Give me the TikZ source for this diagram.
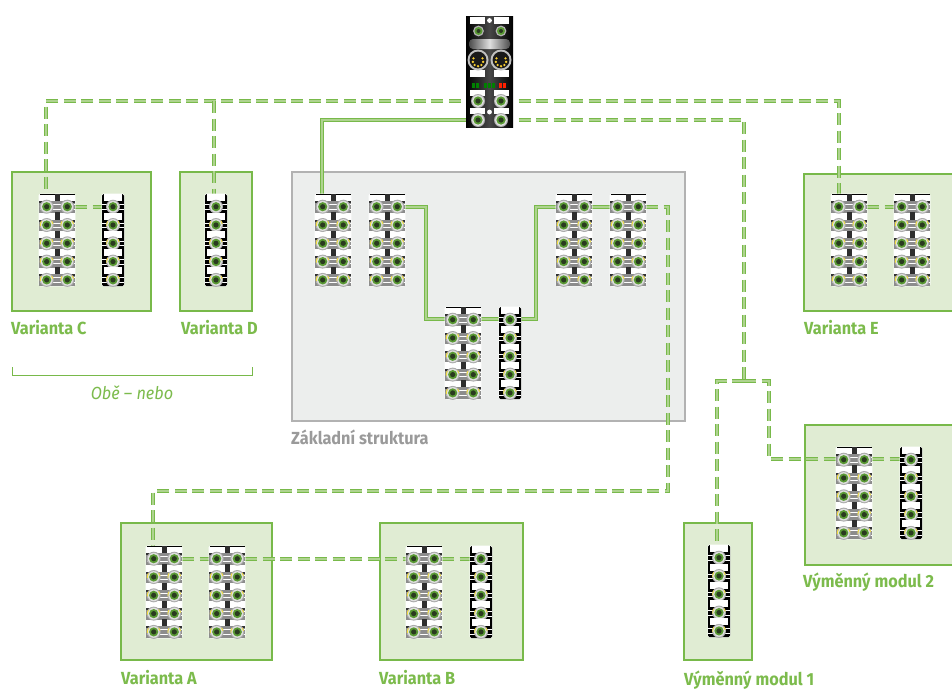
\documentclass[tikz,border=0pt]{standalone}
\usepackage{fontspec}
\newfontfamily\lab[FakeStretch=0.93]{Fira Sans}
\usetikzlibrary{calc}
\definecolor{lg}{HTML}{78B94A}
\definecolor{ll}{HTML}{AED38F}
\definecolor{pale}{HTML}{E0ECD3}
\definecolor{basef}{HTML}{ECEEED}
\definecolor{baseb}{HTML}{B2B2B2}
\definecolor{txg}{HTML}{7CBB4C}
\definecolor{txgr}{HTML}{9A9A9A}
\definecolor{mdark}{HTML}{2E2E2E}
\definecolor{pg}{HTML}{5A9A34}
\definecolor{pd}{HTML}{2A3A20}
\definecolor{py}{HTML}{F4DF3C}
\tikzset{
 varbox/.style={draw=lg,line width=2pt,fill=pale,anchor=north west,inner sep=0pt,outer sep=0pt},
 basebox/.style={draw=baseb,line width=2pt,fill=basef,anchor=north west,inner sep=0pt,outer sep=0pt},
 solidlink/.style={draw=lg,line width=1.6pt,double=ll,double distance=1.7pt},
 dashlink/.style={solidlink,dash pattern=on 12pt off 5.5pt},
 modbox/.style={fill=white,draw=white,line width=.8pt,rounded corners=1.5pt,anchor=north west,inner sep=0pt,outer sep=0pt},
 lbl/.style={anchor=base west,inner sep=0pt,text=txg,font=\lab\fontsize{17.5}{19}\selectfont\bfseries},
 brace/.style={draw=lg,line width=.8pt},
}
% connector: x, y
\newcommand\portf[2]{%
 \fill[gray!65] (#1,#2) circle (7pt);
 \fill[white!75!gray] (#1,#2) circle (5.9pt);
 \fill[pg] (#1,#2) circle (4.6pt);
 \fill[pd] (#1,#2) circle (2.6pt);
}
\newcommand\portc[2]{%
 \portf{#1}{#2}
 \draw[py,line width=.9pt] (#1,#2) ++(145:6.4pt) arc (145:190:6.4pt);
 \draw[py,line width=.9pt] (#1,#2) ++(10:6.4pt) arc (10:40:6.4pt);
}
% name, x, y (top left)
\newcommand\dualmod[3]{%
 \node[modbox,minimum width=36pt,minimum height=92pt] (#1) at (#2,#3) {};
 \fill[black] (#2+.5,#3+.2) rectangle (#2+35.5,#3+1);
 \foreach \i in {0,...,4}{
  \pgfmathsetmacro\ry{#3+12.7+18.3*\i}
  \fill[black!45] (#2+.3,\ry-5.5) rectangle (#2+35.7,\ry+6);
  \fill[white] (#2+.5,\ry-2.5) rectangle (#2+35.5,\ry-1.8);
  \fill[white] (#2+.5,\ry+1.8) rectangle (#2+35.5,\ry+2.5);
  \fill[black!80] (#2+.3,\ry-5.5) rectangle (#2+3,\ry-3.5);
  \fill[black!80] (#2+33,\ry-5.5) rectangle (#2+35.7,\ry-3.5);
  \ifnum\i=0 \portf{#2+7.7}{\ry}\portf{#2+28.3}{\ry}\else\portc{#2+7.7}{\ry}\portc{#2+28.3}{\ry}\fi
 }
 \foreach \i in {0,...,4}{
  \pgfmathsetmacro\ry{#3+12.7+18.3*\i}
  \fill[mdark] (#2+16,\ry-12.7) rectangle (#2+21,\ry-5.5);
 }
}
\newcommand\singlemod[3]{%
 \node[modbox,minimum width=22pt,minimum height=92pt] (#1) at (#2,#3) {};
 \fill[black,rounded corners=1.5pt] (#2,#3) rectangle (#2+22,#3+92);
 \foreach \i in {0,...,4}{
  \pgfmathsetmacro\ry{#3+12.7+18.3*\i}
  \fill[white] (#2+2,\ry-12.5) rectangle (#2+20,\ry-5.5);
  \fill[white] (#2,\ry-2.5) rectangle (#2+22,\ry-1.9);
  \fill[white] (#2,\ry+1.9) rectangle (#2+22,\ry+2.5);
  \ifnum\i=0 \portf{#2+11}{\ry}\else\portc{#2+11}{\ry}\fi
 }
}
\begin{document}
\begin{tikzpicture}[x=1pt,y=-1pt]
\useasboundingbox (0,0) rectangle (952,689);
\fill[white] (0,0) rectangle (952,689);
% boxes
\node[varbox,minimum width=139pt,minimum height=139pt] (bc) at (12,172) {};
\node[varbox,minimum width=72pt,minimum height=139pt] (bd) at (180,172) {};
\node[basebox,minimum width=393pt,minimum height=249pt] (bs) at (292,172) {};
\node[varbox,minimum width=160pt,minimum height=137pt] (be) at (804,174) {};
\node[varbox,minimum width=160pt,minimum height=140pt] (bm2) at (805,425) {};
\node[varbox,minimum width=151pt,minimum height=137pt] (ba) at (121,523) {};
\node[varbox,minimum width=143pt,minimum height=137pt] (bb) at (380,523) {};
\node[varbox,minimum width=68pt,minimum height=137pt] (bm1) at (684,523) {};
% gateway anchors
\coordinate (g1) at (478,101);
\coordinate (g2) at (478,120);
\coordinate (g3) at (501,101);
\coordinate (g4) at (501,120);
% link ends
\coordinate (c1a) at (46,207);
\coordinate (c1b) at (75,207);
\coordinate (c2a) at (102,207);
\coordinate (d1a) at (214,207);
\coordinate (s1a) at (322,207);
\coordinate (s2b) at (396,207);
\coordinate (s3a) at (445,319);
\coordinate (s3b) at (481,319);
\coordinate (s4a) at (499,319);
\coordinate (s4b) at (521,319);
\coordinate (s5a) at (556,207);
\coordinate (s5b) at (592,207);
\coordinate (s6a) at (610,207);
\coordinate (s6b) at (646,207);
\coordinate (e1a) at (839,207);
\coordinate (e1b) at (867,207);
\coordinate (e2a) at (894,207);
\coordinate (a1a) at (153,559);
\coordinate (a1b) at (182,559);
\coordinate (a2a) at (209,559);
\coordinate (a2b) at (245,559);
\coordinate (b1a) at (406,559);
\coordinate (b1b) at (442,559);
\coordinate (b2a) at (470,559);
\coordinate (m1a) at (717,558);
\coordinate (m2a) at (836,459);
\coordinate (m2b) at (872,459);
\coordinate (m3a) at (900,459);
\coordinate (j1) at (744,381);
\coordinate (t1) at (668,491);
\coordinate (t2) at (769,381);
\coordinate (u1) at (426,207);
\coordinate (u2) at (536,207);
% links
\draw[dashlink] (g1) -| (c1a);
\draw[dashlink] (d1a |- g1) -- (d1a);
\draw[dashlink] (c1b) -- (c2a);
\draw[solidlink] (g2) -| (s1a);
\draw[solidlink] (s2b) -- (u1) |- (s3a);
\draw[solidlink] (s3b) -- (s4a);
\draw[solidlink] (s4b) -| (u2) -- (s5a);
\draw[solidlink] (s5b) -- (s6a);
\draw[dashlink] (s6b) -| (t1) -| (a1a);
\draw[dashlink] (a1b) -- (a2a);
\draw[dashlink] (a2b) -- (b1a);
\draw[dashlink] (b1b) -- (b2a);
\draw[dashlink] (g3) -| (e1a);
\draw[dashlink] (e1b) -- (e2a);
\draw[dashlink] (g4) -| (j1);
\draw[dashlink] (j1) -| (m1a);
\draw[dashlink] (j1) -- (t2) |- (m2a);
\draw[dashlink] (m2b) -- (m3a);
% modules
\dualmod{mc1}{39}{194}
\singlemod{mc2}{102}{194}
\singlemod{md1}{205}{194}
\dualmod{ms1}{315}{194}
\dualmod{ms2}{369}{194}
\dualmod{ms3}{445}{307}
\singlemod{ms4}{499}{307}
\dualmod{ms5}{556}{194}
\dualmod{ms6}{610}{194}
\dualmod{me1}{831}{194}
\dualmod{me2}{894}{194}
\dualmod{ma1}{146}{546}
\dualmod{ma2}{209}{546}
\dualmod{mb1}{406}{546}
\singlemod{mb2}{470}{546}
\singlemod{mm1}{708}{545}
\dualmod{mm2}{836}{447}
\singlemod{mm3}{900}{447}
% gateway
\node[fill=black,inner sep=0pt,outer sep=0pt,minimum width=47pt,minimum height=111pt,anchor=north west] (gw) at (466,16) {};
\shade[left color=black,right color=black,middle color=black!72] (466,16) rectangle (513,127);
\foreach \xx in {470,494}{
 \fill[white] (\xx,17) rectangle (\xx+15,24);
 \fill[white] (\xx,70) rectangle (\xx+15,77);
 \fill[white] (\xx,90) rectangle (\xx+15,96);
 \fill[white] (\xx,108) rectangle (\xx+15,114);
}
\fill[white] (489.5,20.5) circle (2.4pt);
\fill[white] (489.5,112) circle (2.4pt);
\foreach \xx in {478.5,501}{
 \fill[gray!60] (\xx,31) circle (5.4pt);
 \fill[pg] (\xx,31) circle (4pt);
 \fill[pd] (\xx,31) circle (2pt);
}
\shade[rounded corners=4pt,left color=gray!60!black,right color=gray!60!black,middle color=gray!25] (469,39) rectangle (510,49);
\foreach \xx in {478,501}{
 \fill[gray!50] (\xx,60) circle (10.5pt);
 \fill[black!90] (\xx,60) circle (8.4pt);
 \foreach \a in {150,190,230,270,310,350,30}{
  \fill[py!80!orange] (\xx,61) ++(\a:5.2pt) circle (1.3pt);
 }
}
\foreach \xx in {472,476,484,488,492}{\fill[green!50!black] (\xx,83) rectangle (\xx+2.6,88);}
\foreach \xx in {499,503}{\fill[red!75!orange] (\xx,83) rectangle (\xx+2.6,88);}
\portf{478}{101}\portf{501}{101}\portf{478}{120}\portf{501}{120}
% labels
\node[lbl] (lc) at (11,334) {Varianta C};
\node[lbl] (ld) at (181,334) {Varianta D};
\node[lbl] (le) at (804,334) {Varianta E};
\node[lbl] (la) at (121,684) {Varianta A};
\node[lbl] (lb) at (379,684) {Varianta B};
\node[lbl] (lm1) at (684,685) {Výměnný modul 1};
\node[lbl] (lm2) at (803,587) {Výměnný modul 2};
\node[lbl,text=txgr] (ls) at (291,444) {Základní struktura};
\draw[brace] (12,367) -- (12,375) -- (252,375) -- (252,367);
\node[anchor=base,inner sep=0pt,text=txg,font=\lab\fontsize{17.5}{19}\selectfont\itshape] (lo) at (132,399) {Obě – nebo};
\end{tikzpicture}
\end{document}
